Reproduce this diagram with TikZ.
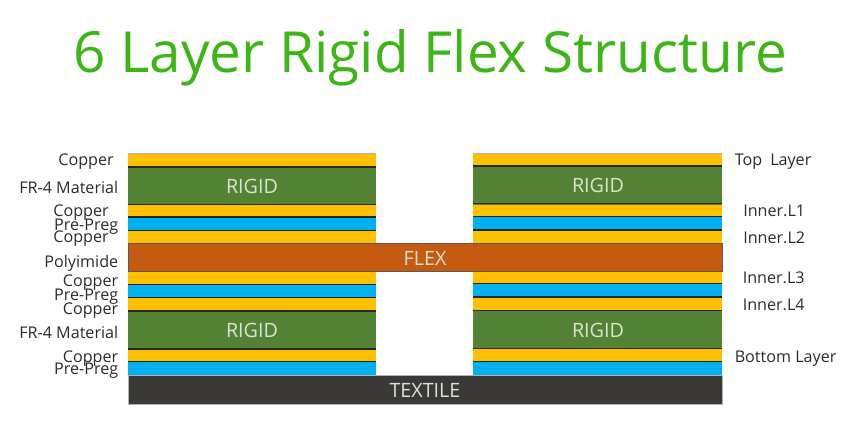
\documentclass[tikz,border=0pt]{standalone}
\usepackage{fontspec}
\setmainfont{Open Sans}
\definecolor{copper}{HTML}{FFC000}
\definecolor{prepreg}{HTML}{00B0F0}
\definecolor{fr}{HTML}{548235}
\definecolor{flex}{HTML}{C55A11}
\definecolor{textile}{HTML}{3B3838}
\definecolor{titlegreen}{HTML}{3CB517}
\definecolor{lbl}{HTML}{2B2B2B}
\definecolor{inner}{HTML}{D9E4D0}
\tikzset{
	cu/.style={fill=copper},
	pp/.style={fill=prepreg},
	frfour/.style={fill=fr},
	sep/.style={draw=black!85,line width=0.9pt},
	lab/.style={font=\fontsize{12.1}{14}\selectfont,text=lbl,inner sep=0pt,yshift=-1pt},
	inlab/.style={font=\fontsize{14.8}{17}\selectfont,text=inner,inner sep=0pt},
}
\begin{document}
\begin{tikzpicture}[x=0.75pt,y=-0.75pt]
		\useasboundingbox (0,0) rectangle (847,433);
		\node[text=titlegreen,font=\fontsize{42.5}{50}\selectfont,inner sep=0pt] (title) at (430,58) {6 Layer Rigid Flex Structure};
		% left stack
		\foreach \a/\b in {153/167,204.5/217,231/243.5,272/285,298/311.5,349/362}\fill[cu] (128,\a) rectangle (376,\b);
		\foreach \a/\b in {217/231,285/298,362/375}\fill[pp] (128,\a) rectangle (376,\b);
		\foreach \a/\b in {167/204.5,311.5/349}\fill[frfour] (128,\a) rectangle (376,\b);
		\foreach \y in {167,204.5,217,230.5,284.5,297.5,311,349,361.5}\draw[sep] (128,\y)--(376,\y);
		% right stack
		\foreach \a/\b in {153/166.5,204.5/217,230.5/243.5,272/284,298/311,349/362}\fill[cu] (473,\a) rectangle (722,\b);
		\foreach \a/\b in {217/230.5,284/298,362/375}\fill[pp] (473,\a) rectangle (722,\b);
		\foreach \a/\b in {166.5/204.5,311/349}\fill[frfour] (473,\a) rectangle (722,\b);
		\foreach \y in {166,203.5,216.5,230,283.5,297,310.5,348.5,361.5}\draw[sep] (473,\y)--(722,\y);
		% flex and textile
		\draw[fill=flex,draw=black!65,line width=0.6pt] (128,243.5) rectangle (722,271);
		\draw[fill=textile,draw=black!30,line width=0.5pt] (128,375) rectangle (722,404);
		\draw[black!30,line width=0.4pt] (128,153)--(376,153) (473,153)--(722,153);
		\node[inlab] (rigidA) at (252,186.5) {RIGID};
		\node[inlab] (rigidB) at (598,185.5) {RIGID};
		\node[inlab] (rigidC) at (252,330.5) {RIGID};
		\node[inlab] (rigidD) at (598,330) {RIGID};
		\node[inlab] (flexlab) at (425,258) {FLEX};
		\node[inlab] (textilelab) at (425,390.5) {TEXTILE};
		% left labels
		\node[lab,anchor=east] (lA) at (114,160) {Copper};
		\node[lab,anchor=east] (lB) at (118.5,186.5) {FR-4 Material};
		\node[lab,anchor=east] (lC) at (109,211) {Copper};
		\node[lab,anchor=east] (lD) at (118.5,225) {Pre-Preg};
		\node[lab,anchor=east] (lE) at (109,237) {Copper};
		\node[lab,anchor=east] (lF) at (118.5,262) {Polyimide};
		\node[lab,anchor=east] (lG) at (118.5,281) {Copper};
		\node[lab,anchor=east] (lH) at (118.5,295) {Pre-Preg};
		\node[lab,anchor=east] (lI) at (118.5,309) {Copper};
		\node[lab,anchor=east] (lJ) at (118.5,331) {FR-4 Material};
		\node[lab,anchor=east] (lK) at (118.5,357) {Copper};
		\node[lab,anchor=east] (lL) at (118.5,369) {Pre-Preg};
		% right labels
		\node[lab,anchor=west] (rA) at (734.5,160) {Top\hspace{0.5em}Layer};
		\node[lab,anchor=west] (rB) at (743,210) {Inner.L1};
		\node[lab,anchor=west] (rC) at (743,236) {Inner.L2};
		\node[lab,anchor=west] (rD) at (742.5,276) {Inner.L3};
		\node[lab,anchor=west] (rE) at (742.5,303) {Inner.L4};
		\node[lab,anchor=west] (rF) at (734.5,357) {Bottom Layer};
\end{tikzpicture}
\end{document}
